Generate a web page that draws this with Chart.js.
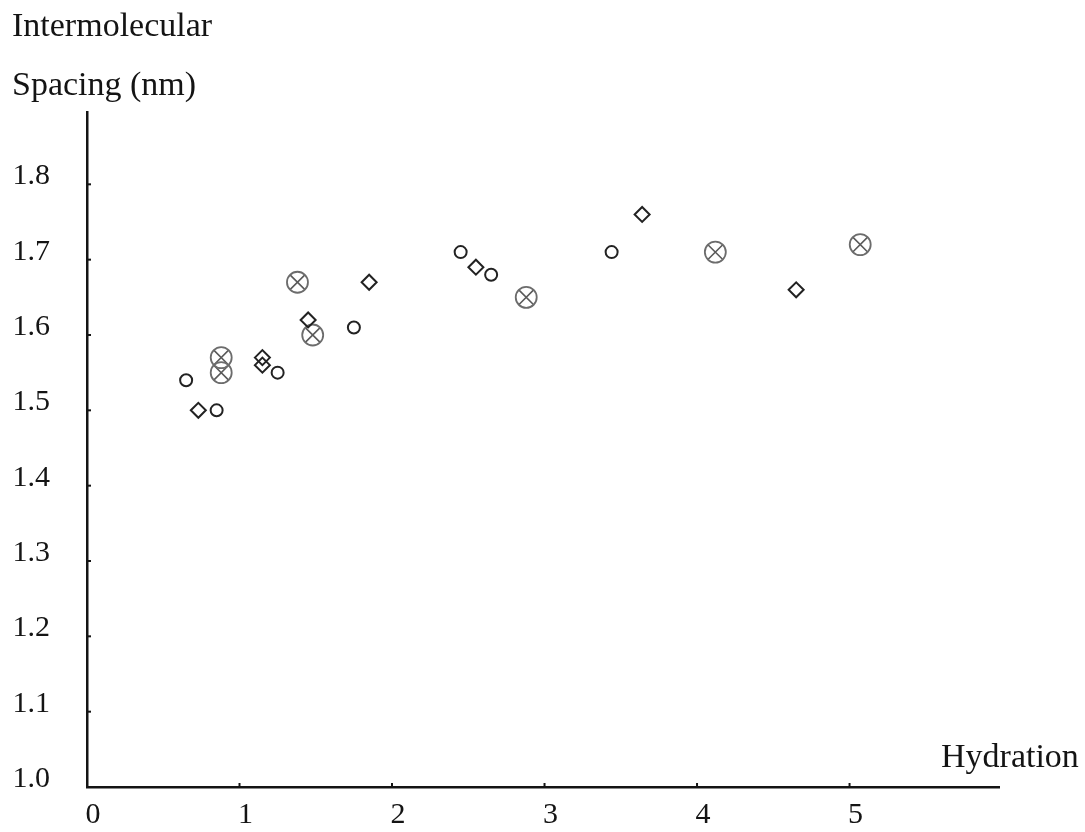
<!DOCTYPE html>
<html>
<head>
<meta charset="utf-8">
<title>Intermolecular Spacing vs Hydration</title>
<script src="https://cdn.jsdelivr.net/npm/chart.js@4.4.1/dist/chart.umd.min.js"></script>
<style>
    html, body { margin: 0; padding: 0; background: #fff; }
    canvas { display: block; }
</style>
</head>
<body>
<canvas id="spacingChart" width="1085" height="832"></canvas>
<script>
// values: hydration (x) and spacing in nm (y)
const circleX = [0.65, 0.85, 1.25, 1.75, 2.45, 2.65, 3.44];
const circleY = [1.54, 1.50, 1.55, 1.61, 1.71, 1.68, 1.71];

const diamondX = [0.73, 1.15, 1.15, 1.45, 1.85, 2.55, 3.64, 4.65];
const diamondY = [1.50, 1.57, 1.56, 1.62, 1.67, 1.69, 1.76, 1.66];

const crossedX = [0.88, 0.88, 1.38, 1.48, 2.88, 4.12, 5.07];
const crossedY = [1.57, 1.55, 1.67, 1.60, 1.65, 1.71, 1.72];

const xTicks = [0, 1, 2, 3, 4, 5];
const yTicks = [1.0, 1.1, 1.2, 1.3, 1.4, 1.5, 1.6, 1.7, 1.8];

const FONT = '"Liberation Serif", "DejaVu Serif", serif';
const INK = '#141414';

const toPoints = (xs, ys) => xs.map((x, i) => ({ x, y: ys[i] }));

// small inward tick marks and the free-standing axis titles
const annotations = {
    id: 'annotations',
    afterDraw(chart) {
        const { ctx, chartArea, scales } = chart;
        ctx.save();
        ctx.strokeStyle = INK;
        ctx.lineWidth = 2;
        yTicks.forEach(v => {
            const y = scales.y.getPixelForValue(v);
            ctx.beginPath();
            ctx.moveTo(chartArea.left, y);
            ctx.lineTo(chartArea.left + 4, y);
            ctx.stroke();
        });
        xTicks.forEach(v => {
            const x = scales.x.getPixelForValue(v);
            ctx.beginPath();
            ctx.moveTo(x, chartArea.bottom);
            ctx.lineTo(x, chartArea.bottom - 4);
            ctx.stroke();
        });

        ctx.fillStyle = INK;
        ctx.font = '34px ' + FONT;
        ctx.textAlign = 'left';
        ctx.textBaseline = 'alphabetic';
        ctx.fillText('Intermolecular', 12, 36);
        ctx.fillText('Spacing (nm)', 12, 95);
        ctx.fillText('Hydration', 941, 767);
        ctx.restore();
    }
};

new Chart(document.getElementById('spacingChart'), {
    type: 'scatter',
    data: {
        datasets: [
            {
                label: 'circle',
                data: toPoints(circleX, circleY),
                pointStyle: 'circle',
                pointRadius: 6,
                borderWidth: 2,
                borderColor: '#222',
                backgroundColor: 'rgba(0,0,0,0)'
            },
            {
                label: 'diamond',
                data: toPoints(diamondX, diamondY),
                pointStyle: 'rectRot',
                pointRadius: 7.5,
                borderWidth: 2,
                borderColor: '#222',
                backgroundColor: 'rgba(0,0,0,0)'
            },
            {
                label: 'crossed ring',
                data: toPoints(crossedX, crossedY),
                pointStyle: 'circle',
                pointRadius: 10.5,
                borderWidth: 1.8,
                borderColor: '#6c6c6c',
                backgroundColor: 'rgba(0,0,0,0)'
            },
            {
                label: 'crossed x',
                data: toPoints(crossedX, crossedY),
                pointStyle: 'crossRot',
                pointRadius: 10.5,
                borderWidth: 1.6,
                borderColor: '#5a5a5a'
            }
        ]
    },
    options: {
        responsive: false,
        animation: false,
        layout: {
            padding: { left: 0, right: 86, top: 112, bottom: 0 }
        },
        plugins: {
            legend: { display: false },
            tooltip: { enabled: false }
        },
        scales: {
            x: {
                type: 'linear',
                min: 0,
                max: 5.98,
                afterFit: scale => {
                    scale.height = 45;
                    scale.paddingLeft = 0;
                    scale.paddingRight = 0;
                },
                afterBuildTicks: scale => { scale.ticks = xTicks.map(v => ({ value: v })); },
                grid: { display: false },
                border: { display: true, color: INK, width: 2.5 },
                ticks: {
                    color: INK,
                    font: { family: FONT, size: 30 },
                    padding: 2,
                    labelOffset: 6,
                    callback: v => String(v)
                }
            },
            y: {
                type: 'linear',
                min: 1.0,
                max: 1.896,
                afterFit: scale => {
                    scale.width = 87;
                    scale.paddingTop = 0;
                    scale.paddingBottom = 0;
                },
                afterBuildTicks: scale => { scale.ticks = yTicks.map(v => ({ value: v })); },
                grid: { display: false },
                border: { display: true, color: INK, width: 2.5 },
                ticks: {
                    color: INK,
                    font: { family: FONT, size: 30 },
                    padding: 29,
                    labelOffset: -8,
                    callback: v => Number(v).toFixed(1)
                }
            }
        }
    },
    plugins: [annotations]
});
</script>
</body>
</html>
